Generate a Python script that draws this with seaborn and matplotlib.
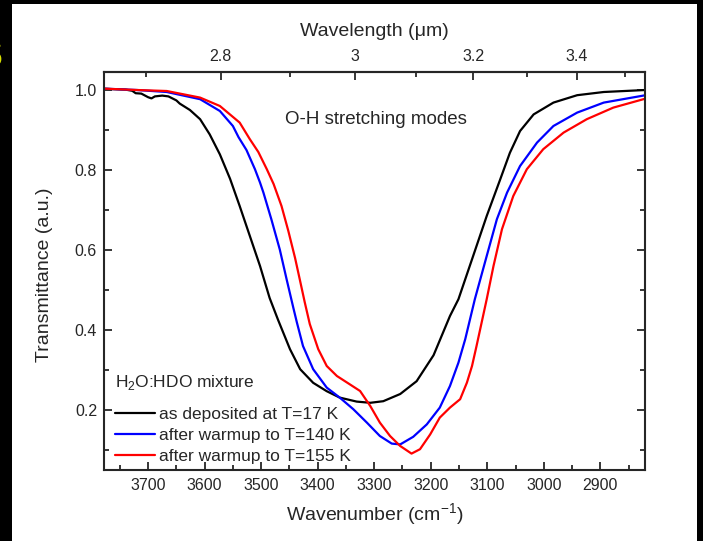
import numpy as np
import pandas as pd
import matplotlib
matplotlib.use('Agg')
import matplotlib.pyplot as plt
from matplotlib.patches import Rectangle
from matplotlib.ticker import MultipleLocator, FixedLocator
import seaborn as sns

# Values: wavenumber (cm-1) vs transmittance
wn_17k = [3780, 3740, 3728, 3722, 3712, 3700, 3694, 3688, 3675, 3664, 3650, 3644, 3626, 3608,
          3591, 3573, 3555, 3538, 3520, 3502, 3485, 3470, 3449, 3431, 3408, 3384, 3361,
          3331, 3307, 3284, 3254, 3225, 3195, 3166, 3151, 3125, 3101, 3077, 3060, 3042, 3018,
          2983, 2941, 2894, 2820]
tr_17k = [1.003, 1.001, 0.998, 0.992, 0.991, 0.982, 0.979, 0.984, 0.986, 0.984, 0.974, 0.966, 0.95, 0.927,
          0.889, 0.839, 0.778, 0.71, 0.635, 0.56, 0.48, 0.425, 0.352, 0.302, 0.268, 0.247, 0.231,
          0.221, 0.218, 0.222, 0.24, 0.272, 0.337, 0.435, 0.477, 0.585, 0.685, 0.777, 0.843, 0.8975, 0.939,
          0.9685, 0.987, 0.995, 1.0]

wn_140k = [3780, 3720, 3667, 3608, 3573, 3550, 3540, 3526, 3511, 3502, 3496, 3482, 3467, 3455,
           3443, 3437, 3426, 3408, 3384, 3361, 3337, 3313, 3290, 3269, 3254, 3231, 3207, 3184,
           3166, 3151, 3139, 3122, 3101, 3083, 3065, 3042, 3012, 2983, 2941, 2894, 2820]
tr_140k = [1.0035, 1.0, 0.995, 0.977, 0.9475, 0.91, 0.882, 0.85, 0.802, 0.7685, 0.7435, 0.677, 0.601, 0.527,
           0.455, 0.42, 0.36, 0.302, 0.256, 0.231, 0.202, 0.1685, 0.135, 0.116, 0.114, 0.133, 0.164, 0.206,
           0.26, 0.3185, 0.377, 0.477, 0.585, 0.677, 0.7435, 0.81, 0.8685, 0.91, 0.9435, 0.9685, 0.987]

wn_155k = [3780, 3720, 3667, 3608, 3573, 3538, 3520, 3505, 3490, 3478, 3464, 3452, 3440, 3431,
           3423, 3414, 3399, 3384, 3366, 3343, 3325, 3307, 3290, 3272, 3254, 3234, 3219, 3201,
           3184, 3166, 3148, 3136, 3127, 3119, 3101, 3089, 3074, 3054, 3030, 3001, 2965, 2924,
           2877, 2820]
tr_155k = [1.0035, 1.0, 0.9975, 0.981, 0.96, 0.9185, 0.877, 0.845, 0.802, 0.765, 0.71, 0.648, 0.58, 0.522,
           0.47, 0.415, 0.352, 0.31, 0.285, 0.264, 0.2475, 0.21, 0.1685, 0.135, 0.11, 0.091, 0.102, 0.139,
           0.181, 0.206, 0.227, 0.2685, 0.31, 0.36, 0.477, 0.56, 0.652, 0.735, 0.802, 0.852, 0.8935, 0.927,
           0.956, 0.9785]

labels = ['as deposited at T=17 K', 'after warmup to T=140 K', 'after warmup to T=155 K']
colors = ['black', 'blue', 'red']

df = pd.concat([
    pd.DataFrame({'wavenumber': w, 'transmittance': t, 'sample': lab})
    for w, t, lab in zip([wn_17k, wn_140k, wn_155k], [tr_17k, tr_140k, tr_155k], labels)
], ignore_index=True)

sns.set_style('ticks')
plt.rcParams['font.family'] = ['Liberation Sans', 'DejaVu Sans']

W, H = 703, 541
fig = plt.figure(figsize=(W / 100, H / 100), dpi=100)
fig.patch.set_facecolor('black')
fig.add_artist(Rectangle((12 / W, 0), 685 / W, 537 / H, transform=fig.transFigure,
                         facecolor='white', edgecolor='none', zorder=-5))
# small yellow fragment at the left edge of the slide
fig.text(2.5 / W, 1 - 57 / H, 'S', color='#d8e000', fontsize=28, fontweight='bold',
         ha='right', va='center')

ax = fig.add_axes([104 / W, 1 - 470 / H, 541 / W, 398 / H])
ax.set_facecolor('white')

sns.lineplot(data=df, x='wavenumber', y='transmittance', hue='sample',
             palette=dict(zip(labels, colors)), estimator=None, sort=False,
             lw=1.6, legend=False, ax=ax)

ax.set_xlim(3778, 2821)
ax.set_ylim(0.05, 1.045)
ax.xaxis.set_major_locator(MultipleLocator(100))
ax.xaxis.set_minor_locator(MultipleLocator(50))
ax.yaxis.set_major_locator(MultipleLocator(0.2))
ax.yaxis.set_minor_locator(MultipleLocator(0.1))
ax.tick_params(which='both', direction='in', top=False, right=True, width=1.3, labelsize=11.5)
ax.tick_params(axis='x', pad=6)
ax.tick_params(axis='y', pad=5)
ax.tick_params(which='major', length=6)
ax.tick_params(which='minor', length=3.5)
for s in ax.spines.values():
    s.set_linewidth(1.5)

ax.set_xlabel('Wavenumber (cm$^{\\mathregular{-1}}$)', fontsize=14)
ax.set_ylabel('Transmittance (a.u.)', fontsize=14)
ax.xaxis.set_label_coords(0.5, -0.078)
ax.yaxis.set_label_coords(-0.094, 0.49)


def inv(x):
    x = np.asarray(x, dtype=float)
    with np.errstate(divide='ignore', invalid='ignore'):
        return 1e4 / x


secax = ax.secondary_xaxis('top', functions=(inv, inv))
secax.set_xticks([2.8, 3.0, 3.2, 3.4], labels=['2.8', '3', '3.2', '3.4'])
secax.xaxis.set_minor_locator(FixedLocator([2.7, 2.9, 3.1, 3.3, 3.5]))
secax.tick_params(which='both', direction='in', width=1.3, labelsize=11.5, pad=6)
secax.tick_params(which='major', length=6)
secax.tick_params(which='minor', length=3.5)
secax.spines['top'].set_linewidth(1.5)
secax.set_xlabel('Wavelength (μm)', fontsize=14, labelpad=9)

ax.text(0.5025, 0.8794, 'O-H stretching modes', transform=ax.transAxes,
        ha='center', va='center', fontsize=13.5)

# legend title drawn as its own text so it can sit a little higher
ax.text(11 / 541, (470 - 383) / 398, 'H$_\\mathregular{2}$O:HDO mixture', transform=ax.transAxes,
        ha='left', va='center', fontsize=12.5)
ax.legend(handles=ax.get_lines(), labels=labels,
          loc='lower left', bbox_to_anchor=(11 / 541, 0.016), frameon=False, fontsize=12.5,
          handlelength=2.3, handletextpad=0.23, labelspacing=0.33, borderpad=0, borderaxespad=0)

fig.savefig('out.png', dpi=100, facecolor=fig.get_facecolor())
